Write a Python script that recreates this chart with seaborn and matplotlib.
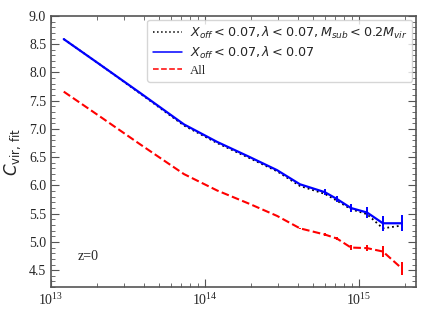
import matplotlib
matplotlib.use("Agg")
import matplotlib.pyplot as plt
import matplotlib.ticker as mticker
import seaborn as sns
import numpy as np
import pandas as pd

# halo mass bins (M_sun/h) and fitted concentrations
mass = [1.21e13, 2.08e13, 3.78e13, 7.31e13, 1.20e14, 1.96e14, 2.94e14,
        4.14e14, 6.01e14, 7.19e14, 8.87e14, 1.13e15, 1.43e15, 1.90e15]
c_relaxed3 = [8.59, 8.14, 7.63, 7.06, 6.75, 6.48, 6.25, 5.99, 5.85, 5.73, 5.58, 5.49, 5.24, 5.29]
c_relaxed2 = [8.59, 8.14, 7.64, 7.08, 6.77, 6.50, 6.27, 6.02, 5.88, 5.76, 5.60, 5.52, 5.33, 5.33]
c_all = [7.66, 7.22, 6.73, 6.20, 5.91, 5.67, 5.46, 5.24, 5.13, 5.06, 4.90, 4.89, 4.83, 4.53]
err_relaxed2 = [0, 0, 0, 0, 0, 0, 0, 0.01, 0.05, 0.05, 0.07, 0.09, 0.13, 0.14]
err_all = [0, 0, 0, 0, 0, 0, 0, 0.01, 0.02, 0.03, 0.05, 0.05, 0.10, 0.12]

lab3 = r"$X_{off}<0.07, \lambda<0.07, M_{sub}<0.2M_{vir}$"
lab2 = r"$X_{off}<0.07, \lambda<0.07$"
lab_all = "All"

sns.set_style("ticks")
plt.rcParams["font.family"] = ["Liberation Serif", "DejaVu Serif"]
plt.rcParams["mathtext.fontset"] = "dejavusans"
plt.rcParams["xtick.direction"] = "in"
plt.rcParams["ytick.direction"] = "in"

df = pd.DataFrame({"mass": mass, "c3": c_relaxed3, "c2": c_relaxed2, "call": c_all})

fig = plt.figure(figsize=(4.25, 3.19), dpi=100)
ax = fig.add_axes([0.12, 0.10, 0.859, 0.85])

sns.lineplot(data=df, x="mass", y="c3", ax=ax, color="black", linestyle=":", lw=1.3, label=lab3)
sns.lineplot(data=df, x="mass", y="c2", ax=ax, color="blue", linestyle="-", lw=1.6, label=lab2)
sns.lineplot(data=df, x="mass", y="call", ax=ax, color="red", linestyle="--", lw=1.5, label=lab_all)
ax.errorbar(mass, c_relaxed2, yerr=err_relaxed2, fmt="none", ecolor="blue", elinewidth=1.4)
ax.errorbar(mass, c_all, yerr=err_all, fmt="none", ecolor="red", elinewidth=1.4)

ax.set_xscale("log")
ax.set_xlim(1e13, 2.35e15)
ax.set_ylim(4.2, 9.0)
ax.yaxis.set_major_locator(mticker.MultipleLocator(0.5))
ax.yaxis.set_minor_locator(mticker.MultipleLocator(0.1))
ax.yaxis.set_major_formatter(mticker.FormatStrFormatter("%.1f"))
ax.xaxis.set_major_formatter(mticker.FuncFormatter(
    lambda v, p: r"$\mathregular{10^{%d}}$" % round(np.log10(v))))
ax.tick_params(which="both", top=True, right=True, labelsize=10, color="#555555")
ax.tick_params(which="major", length=6)
ax.tick_params(which="minor", length=3)
for s in ax.spines.values():
    s.set_color("#555555")
    s.set_linewidth(1.2)

ax.set_xlabel("")
ax.set_ylabel(r"$C_{\rm vir,\,fit}$", fontsize=12)
ax.text(0.074, 0.1, "z=0", transform=ax.transAxes, fontsize=10)
leg = ax.legend(loc="upper right", fontsize=9.2, handlelength=2.3, handletextpad=0.6,
                labelspacing=0.3, borderpad=0.4, borderaxespad=0.3, fancybox=True)
for h in leg.get_lines():
    h.set_linewidth(1.1)

fig.savefig("out.png", dpi=100)
